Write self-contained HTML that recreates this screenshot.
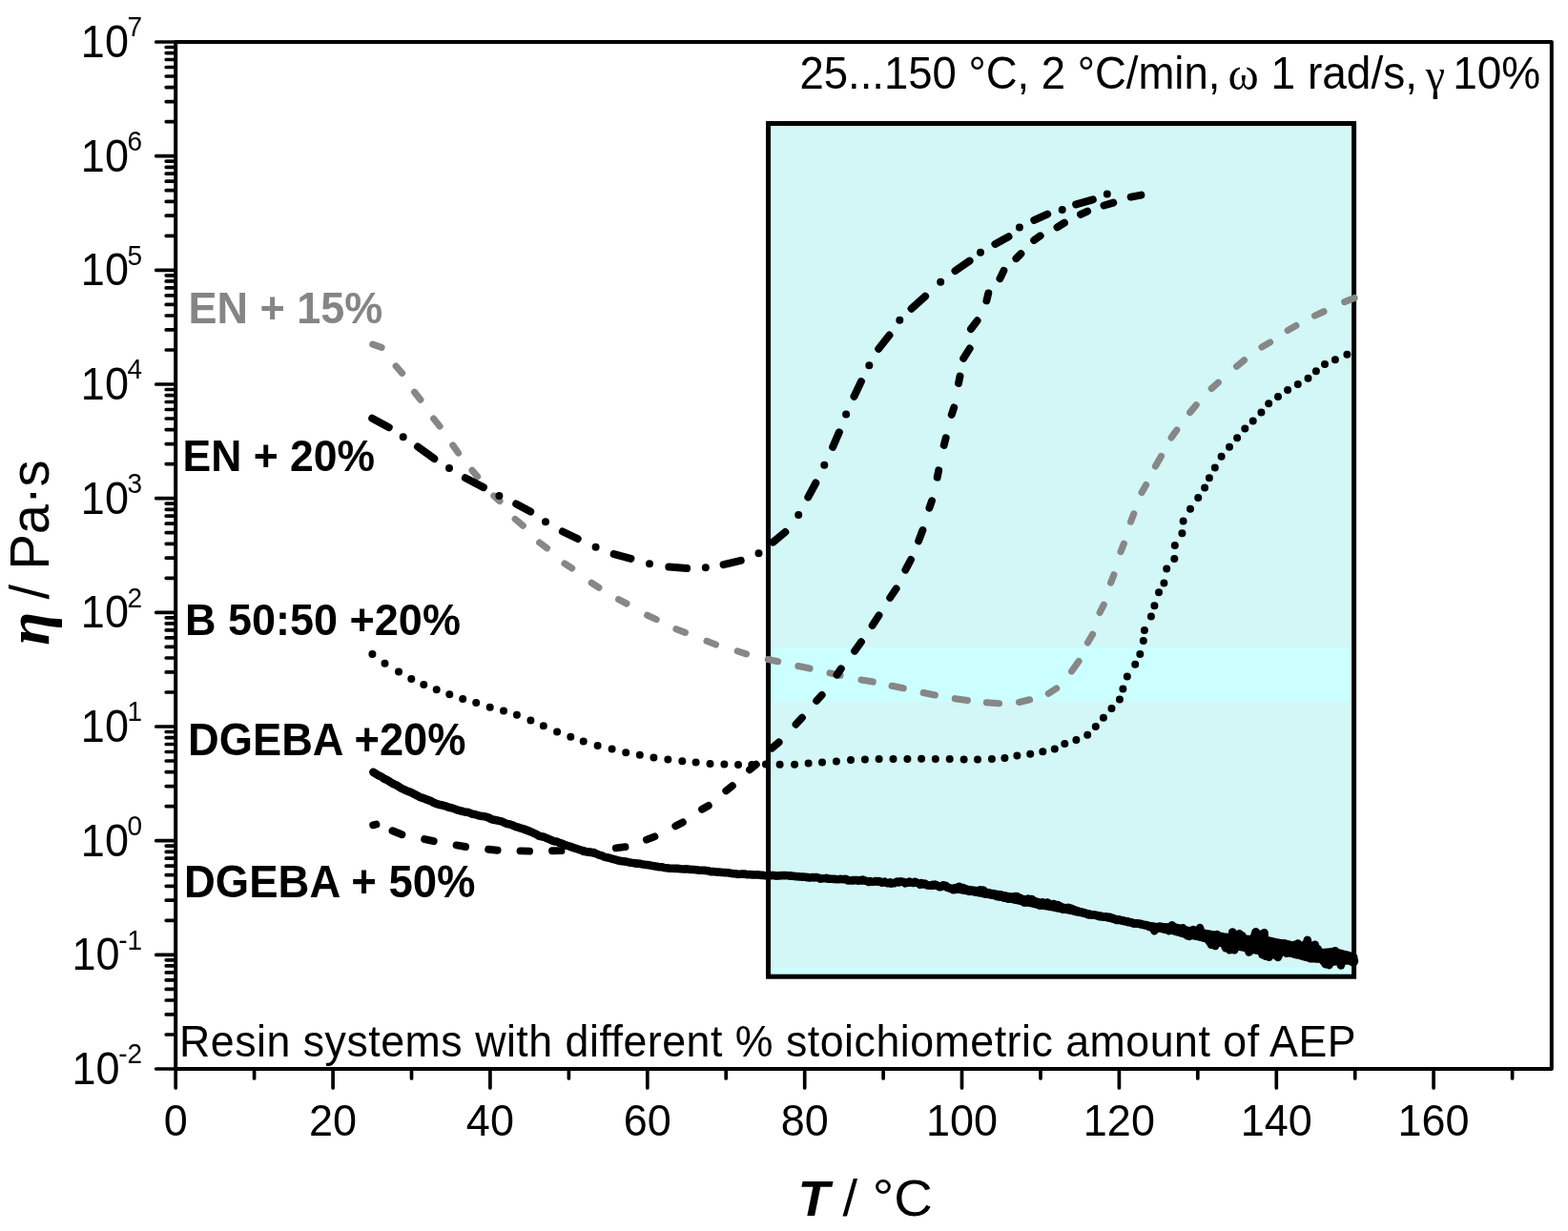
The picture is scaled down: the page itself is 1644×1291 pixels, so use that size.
<!DOCTYPE html><html><head><meta charset="utf-8"><title>Viscosity plot</title><style>html,body{margin:0;padding:0;background:#fff;}svg{display:block;font-family:"Liberation Sans",Arial,sans-serif;}</style></head><body>
<svg width="1644" height="1291" viewBox="0 0 1644 1291">
<rect width="1644" height="1291" fill="#ffffff"/>
<rect x="805.5" y="129.5" width="614.1" height="894.7" fill="#d3f6f6"/>
<rect x="805.5" y="678" width="614.1" height="57.5" fill="#ccffff"/>
<rect x="805.5" y="1014.5" width="614.1" height="9" fill="#ccffff"/>
<rect x="805.5" y="129.5" width="614.1" height="894.7" fill="none" stroke="#000" stroke-width="5"/>
<path d="M390.7 361.1 L400.1 364.3 M415.2 384 L421.6 391.4 M434.6 411.2 L440.9 419.2 M454.7 439.1 L461.1 447.1 M474.8 466.9 L480.5 475 M495 493.2 L500.6 499.9 M517.8 520 L524 525.5 M540.2 544.4 L548.3 551.3 M565.6 569 L573.5 574.8 M592 590.9 L599.7 595.9 M620.2 611.3 L627.9 616.3 M648.6 628.7 L657 633 M678.7 645.2 L688.2 649.6 M708.9 659.7 L718.4 663.4 M741 672.3 L750.5 676 M773.2 682.9 L782.5 685.8 M805.3 691.6 L815.6 693.7 M836.9 698.6 L849 701.1 M870 705.9 L881 708.2 M903 713 L915.2 715.1 M935.1 719.3 L947.2 721.7 M968.2 726.5 L980.3 729 M1001.3 732.7 L1014.4 734.6 M1034.4 736.7 L1047.5 737.8 M1068.5 736.5 L1079.6 733.8 M1099.3 727.4 L1107.7 721.9 M1123.6 704.1 L1131 693.4 M1140.4 674 L1145.6 665.3 M1153.1 642.5 L1157.3 634.1 M1164.6 611.1 L1167.9 602.7 M1175 578.6 L1178.4 570.2 M1185.5 547.2 L1188.8 538.8 M1197.1 516.5 L1201.6 508.5 M1211.4 489 L1217.4 478.4 M1228.1 458.9 L1233.8 451 M1247.6 432.6 L1254.2 424.7 M1270.2 407.5 L1277.3 401.2 M1296.6 384.3 L1304.5 377.7 M1323 364 L1331.6 359 M1350.2 346.5 L1358.9 341.5 M1378.5 331.1 L1388 326.7 M1409.7 316.6 L1420.1 312.5" fill="none" stroke="#878787" stroke-width="7.1" stroke-linecap="round"/>
<path d="M390.2 438.7 L407.8 448.2 M422.7 458.2 L422.7 458.2 M438 468.5 L455.3 481.1 M471 491.1 L471 491.1 M487.9 501.3 L506.9 511.1 M523.4 519.9 L523.4 519.9 M541.2 528.5 L556.2 536.6 M572 547.2 L572 547.2 M589.9 557.5 L605.7 565 M624.6 573.8 L624.6 573.8 M643.7 581.1 L661.4 585.8 M681 591.3 L681 591.3 M701.3 594.6 L720.1 596.1 M739.8 595.2 L739.8 595.2 M758.6 592.1 L776.7 587.9 M795.5 580.2 L795.5 580.2 M810.5 568.6 L823.3 558 M837.2 540.1 L837.2 540.1 M847.3 521.4 L855.3 506.5 M864.3 487.8 L864.3 487.8 M873.1 468.9 L879.8 453.4 M887.1 434.5 L887.1 434.5 M895.5 415.8 L902.9 400.1 M911.3 383.2 L911.3 383.2 M921.2 365.9 L932.4 351.6 M943.3 335.8 L943.3 335.8 M955.6 323.7 L970.1 310.7 M986.2 295.8 L986.2 295.8 M1001.5 284 L1016.6 273.6 M1028 264.7 L1028 264.7 M1043.4 255.9 L1057.5 248.2 M1068.9 238.4 L1068.9 238.4 M1084.3 230.8 L1098.2 224.6 M1113.7 219.9 L1113.7 219.9 M1128.2 214.4 L1145.8 209.4 M1160.8 203.4 L1160.8 203.4" fill="none" stroke="#000" stroke-width="8.0" stroke-linecap="round"/>
<path d="M391.2 865.3 L394.4 864.5 M411.5 871.3 L421.4 875.2 M445.2 880.1 L454.7 882.2 M478.6 886.4 L488.1 888 M512.1 890.8 L521.6 891.7 M545.5 892.4 L555.1 892.6 M579 892.2 L588.5 892.1 M612.1 893.4 L622.4 893.7 M645.9 889.4 L655.5 888.2 M677.9 880.6 L686.4 877.4 M708.3 866.3 L715.8 862.4 M736 848.7 L742.8 845 M761.3 829.3 L767.9 824.2 M786 807.3 L792.8 801.7 M809.5 784.6 L816.6 778.4 M834.5 759.7 L840.9 752.7 M856.2 734.9 L861.7 728.9 M877.5 707.7 L881.8 701.3 M896.1 682.7 L902.9 673.2 M914.7 655.9 L921.5 645.4 M933.2 626.9 L939.6 617.4 M949.4 597.7 L955 587 M963.1 567.4 L967.4 556 M974.4 532.7 L977 525.2 M982.7 500.6 L984.2 493.3 M989.7 466.9 L991.7 459.3 M997.7 434.9 L1000.2 427.4 M1005 401.9 L1006.5 394.6 M1010.2 375.8 L1016.7 365.5 M1018 345 L1024.6 336.3 M1034.4 315.3 L1036.3 307.4 M1048.4 292.2 L1052.4 283.9 M1065.4 271.1 L1070.4 266.1 M1084.1 251.9 L1090.7 247.3 M1108.5 238.4 L1116 233.6 M1133 224.9 L1140.1 221.7 M1157.4 215.5 L1167.3 212.6 M1185.7 206.6 L1196.4 204.6" fill="none" stroke="#000" stroke-width="7.9" stroke-linecap="round"/>
<path d="M390.4 686 l0.01 0 M403.5 695.7 l0.01 0 M418 704.6 l0.01 0 M431.3 712 l0.01 0 M444.3 718 l0.01 0 M457.7 723.2 l0.01 0 M471.3 728.2 l0.01 0 M485.2 733 l0.01 0 M499.2 737.1 l0.01 0 M513.7 741.8 l0.01 0 M528 745.5 l0.01 0 M541.9 749.8 l0.01 0 M556.4 755.4 l0.01 0 M569.8 761.3 l0.01 0 M584.1 767.4 l0.01 0 M598.3 772.8 l0.01 0 M611.7 777.5 l0.01 0 M626.6 781.9 l0.01 0 M641.6 785.5 l0.01 0 M656.2 789.2 l0.01 0 M670.8 791.8 l0.01 0 M685.4 794.6 l0.01 0 M700.3 796.5 l0.01 0 M715.3 798.2 l0.01 0 M729.6 799.4 l0.01 0 M744.5 800.9 l0.01 0 M759.4 801.6 l0.01 0 M774 802 l0.01 0 M788.3 801.9 l0.01 0 M802.9 801.6 l0.01 0 M817.6 801.7 l0.01 0 M833.1 801.7 l0.01 0 M847.6 800.6 l0.01 0 M862 799.6 l0.01 0 M876.9 798.6 l0.01 0 M892 796.9 l0.01 0 M906.9 796.5 l0.01 0 M921.6 796.1 l0.01 0 M936.5 795.9 l0.01 0 M951.4 795.9 l0.01 0 M966.1 795.7 l0.01 0 M980.8 795.9 l0.01 0 M995.7 796.1 l0.01 0 M1010.6 796.5 l0.01 0 M1025 796.5 l0.01 0 M1039.9 796.1 l0.01 0 M1053.4 795.1 l0.01 0 M1066.4 792.4 l0.01 0 M1080.2 790.7 l0.01 0 M1093.3 788.2 l0.01 0 M1105.8 785.4 l0.01 0 M1116.3 780 l0.01 0 M1128.4 776.1 l0.01 0 M1140.2 770.7 l0.01 0 M1148.8 762.1 l0.01 0 M1156.9 752.8 l0.01 0 M1165.5 742.9 l0.01 0 M1173.9 733.6 l0.01 0 M1177.4 722.6 l0.01 0 M1181.8 709.6 l0.01 0 M1190.2 696.8 l0.01 0 M1195.3 685.9 l0.01 0 M1198.8 672 l0.01 0 M1199.9 661 l0.01 0 M1206.9 646.4 l0.01 0 M1210.4 635.3 l0.01 0 M1215 621.3 l0.01 0 M1220.4 611.5 l0.01 0 M1223.2 596.4 l0.01 0 M1231.3 586 l0.01 0 M1231.8 572 l0.01 0 M1239.4 559.3 l0.01 0 M1240.6 546.5 l0.01 0 M1248 533.7 l0.01 0 M1256.2 522.1 l0.01 0 M1263.1 511.6 l0.01 0 M1267.9 501.2 l0.01 0 M1273.8 490.5 l0.01 0 M1280.6 478.8 l0.01 0 M1289 468.7 l0.01 0 M1297.1 459.3 l0.01 0 M1305.3 449.6 l0.01 0 M1313.7 441.4 l0.01 0 M1322.4 432.5 l0.01 0 M1330.2 423.3 l0.01 0 M1340 416.1 l0.01 0 M1350.1 409.1 l0.01 0 M1360.8 402.9 l0.01 0 M1371.5 396.7 l0.01 0 M1379.9 389.3 l0.01 0 M1389 382.1 l0.01 0 M1399.9 377.2 l0.01 0 M1412.4 371.8 l0.01 0" fill="none" stroke="#000" stroke-width="8" stroke-linecap="round"/>
<path d="M1001.1 930.4 L1003.3 930.6 L1005.5 930.9 L1007.7 931.2 L1009.8 931.5 L1012 931.8 L1014.1 932.1 L1016.2 932.4 L1018.3 932.7 L1020.4 933 L1022.4 933.3 L1024.5 933.7 L1026.6 934 L1028.7 934.3 L1030.8 934.7 L1032.9 935 L1035 935.3 L1037 935.7 L1039.1 936.1 L1041.2 936.4 L1043.3 936.8 L1045.4 937.1 L1047.6 937.5 L1049.7 937.9 L1051.9 938.4 L1054.1 938.8 L1056.3 939.2 L1058.5 939.6 L1060.7 940 L1062.8 940.4 L1064.9 940.9 L1066.9 941.3 L1068.8 941.6 L1070.7 942 L1072.5 942.3 L1075.1 942.8 L1077.3 943.3 L1079.4 943.7 L1081.4 944.1 L1083.3 944.4 L1085.3 944.8 L1087.3 945.2 L1089.5 945.6 L1092 946.1 L1093.9 946.6 L1095.9 947 L1098.1 947.5 L1100.3 947.9 L1102.6 948.4 L1105 949 L1107.3 949.5 L1109.6 950 L1111.8 950.4 L1113.9 950.9 L1115.8 951.3 L1117.6 951.7 L1119.2 952.1 L1122.3 952.8 L1124.3 953.4 L1125.9 953.9 L1127.6 954.4 L1130.1 955 L1131.7 955.4 L1133.5 955.8 L1135.4 956.3 L1137.4 956.7 L1139.5 957.2 L1141.7 957.6 L1143.8 958.1 L1145.9 958.5 L1148.1 958.9 L1150.1 959.3 L1152.1 959.7 L1154.1 960.1 L1156.1 960.6 L1158.1 961 L1160.1 961.4 L1162.2 961.8 L1164.2 962.2 L1166.2 962.6 L1168.2 963 L1170.2 963.4 L1172.2 963.8 L1174.2 964.2 L1176.2 964.6 L1178.2 965 L1180.2 965.4 L1182.3 965.8 L1184.3 966.2 L1186.3 966.6 L1188.3 967.1 L1190.3 967.5 L1192.3 967.9 L1194.3 968.3 L1196.3 968.8 L1198.3 969.2 L1200.4 969.6 L1202.4 970 L1204.4 970.3 L1206.4 970.6 L1208.4 970.8 L1210.4 971.1 L1212.5 971.3 L1214.6 971.4 L1216.7 971.6 L1218.9 971.7 L1221.1 971.8 L1223.2 971.8 L1225.2 971.9 L1227.1 971.9 L1228.8 972 L1230.4 972.1 L1233.5 972.4 L1235.7 972.8 L1237.7 973.4 L1240 974 L1241.9 974.4 L1243.8 974.8 L1245.8 975.2 L1247.9 975.6 L1250 976 L1252 976.3 L1254 976.7 L1256 977 L1258 977.3 L1260 977.6 L1262 977.9 L1264 978.3 L1266.1 978.6 L1268.1 979 L1270.2 979.4 L1272.3 979.8 L1274.4 980.2 L1276.5 980.5 L1278.6 980.9 L1280.6 981.2 L1282.6 981.6 L1284.7 981.9 L1286.7 982.2 L1288.7 982.5 L1290.7 982.7 L1292.7 982.8 L1294.8 983 L1296.8 983.1 L1298.8 983.2 L1300.8 983.3 L1302.8 983.5 L1304.9 983.7 L1306.9 984 L1308.9 984.2 L1311 984.4 L1313 984.5 L1315 984.6 L1317 984.7 L1319 984.7 L1321 984.7 L1323 984.8 L1325 984.8 L1327 985.2 L1329.1 985.6 L1331.1 986 L1333.2 986.4 L1335.3 986.9 L1337.3 987.3 L1339.3 987.8 L1341.4 988.1 L1343.4 988.4 L1345.4 988.7 L1347.5 989.1 L1349.5 989.5 L1351.5 990 L1353.6 990.5 L1355.6 991.1 L1357.6 991.7 L1359.7 992.3 L1361.7 992.8 L1363.7 992.9 L1365.7 993 L1367.8 993 L1369.8 993 L1371.8 993 L1373.8 993.1 L1375.8 993.9 L1377.9 994.8 L1379.9 995.7 L1381.9 996.7 L1384 997.5 L1386 998.3 L1388 998.2 L1390.1 998.1 L1392.1 997.9 L1394.1 997.7 L1396.2 997.5 L1398.2 997.3 L1400.3 997.9 L1402.3 998.4 L1404.4 998.8 L1406.4 999.3 L1408.4 999.9 L1410.3 1000.4 L1412.5 1001 L1414.8 1001.6 L1416.9 1002.4 L1418.7 1003 L1420 1003.4 L1420 1009.6 L1418.7 1009.3 L1416.9 1008.8 L1414.8 1008.3 L1412.5 1007.9 L1410.3 1007.6 L1408.4 1007.7 L1406.4 1008 L1404.4 1008.3 L1402.3 1008.6 L1400.3 1009 L1398.2 1009.3 L1396.2 1008.9 L1394.1 1008.4 L1392.1 1007.9 L1390.1 1007.5 L1388 1006.9 L1386 1006.3 L1384 1006.3 L1381.9 1006.3 L1379.9 1006.2 L1377.9 1006.1 L1375.8 1006 L1373.8 1005.9 L1371.8 1005.2 L1369.8 1004.7 L1367.8 1004.1 L1365.7 1003.6 L1363.7 1003 L1361.7 1002.4 L1359.7 1002 L1357.6 1001.5 L1355.6 1001 L1353.6 1000.4 L1351.5 999.9 L1349.5 999.5 L1347.5 999.2 L1345.4 998.9 L1343.4 998.7 L1341.4 998.5 L1339.3 998.3 L1337.3 998.3 L1335.3 998.3 L1333.2 998.3 L1331.1 998.3 L1329.1 998.3 L1327 998.4 L1325 998.4 L1323 998.1 L1321 997.8 L1319 997.5 L1317 997.2 L1315 996.9 L1313 996.5 L1311 996.1 L1308.9 995.6 L1306.9 995.1 L1304.9 994.6 L1302.8 994.1 L1300.8 993.7 L1298.8 993.2 L1296.8 992.8 L1294.8 992.4 L1292.7 992 L1290.7 991.6 L1288.7 991.1 L1286.7 990.7 L1284.7 990.2 L1282.6 989.7 L1280.6 989.2 L1278.6 988.6 L1276.5 988.1 L1274.4 987.5 L1272.3 987 L1270.2 986.4 L1268.1 985.8 L1266.1 985.2 L1264 984.7 L1262 984.2 L1260 983.8 L1258 983.4 L1256 982.9 L1254 982.5 L1252 982.1 L1250 981.6 L1247.9 981.2 L1245.8 980.8 L1243.8 980.4 L1241.9 980 L1240 979.6 L1237.7 979 L1235.7 978.4 L1233.5 977.8 L1230.4 976.9 L1228.8 976.6 L1227.1 976.2 L1225.2 975.9 L1223.2 975.5 L1221.1 975.1 L1218.9 974.8 L1216.7 974.5 L1214.6 974.1 L1212.5 973.7 L1210.4 973.3 L1208.4 972.9 L1206.4 972.4 L1204.4 971.9 L1202.4 971.4 L1200.4 970.9 L1198.3 970.4 L1196.3 970 L1194.3 969.6 L1192.3 969.1 L1190.3 968.7 L1188.3 968.3 L1186.3 967.9 L1184.3 967.5 L1182.3 967.2 L1180.2 966.8 L1178.2 966.4 L1176.2 966 L1174.2 965.6 L1172.2 965.2 L1170.2 964.8 L1168.2 964.4 L1166.2 964 L1164.2 963.6 L1162.2 963.2 L1160.1 962.8 L1158.1 962.4 L1156.1 962 L1154.1 961.7 L1152.1 961.3 L1150.1 960.9 L1148.1 960.5 L1145.9 960.1 L1143.8 959.6 L1141.7 959.2 L1139.5 958.8 L1137.4 958.5 L1135.4 958.1 L1133.5 957.8 L1131.7 957.5 L1130.1 957.2 L1127.6 956.7 L1125.9 956.3 L1124.3 955.9 L1122.3 955.5 L1119.2 954.9 L1117.6 954.6 L1115.8 954.3 L1113.9 953.9 L1111.8 953.6 L1109.6 953.2 L1107.3 952.8 L1105 952.4 L1102.6 951.9 L1100.3 951.5 L1098.1 951.1 L1095.9 950.8 L1093.9 950.4 L1092 950.1 L1089.5 949.6 L1087.3 949.1 L1085.3 948.7 L1083.3 948.3 L1081.4 947.9 L1079.4 947.5 L1077.3 947.1 L1075.1 946.6 L1072.5 946.1 L1070.7 945.7 L1068.8 945.3 L1066.9 944.9 L1064.9 944.5 L1062.8 944 L1060.7 943.6 L1058.5 943.1 L1056.3 942.7 L1054.1 942.2 L1051.9 941.7 L1049.7 941.3 L1047.6 940.9 L1045.4 940.4 L1043.3 940 L1041.2 939.6 L1039.1 939.2 L1037 938.9 L1035 938.5 L1032.9 938.1 L1030.8 937.7 L1028.7 937.3 L1026.6 937 L1024.5 936.6 L1022.4 936.3 L1020.4 935.9 L1018.3 935.6 L1016.2 935.2 L1014.1 934.9 L1012 934.6 L1009.8 934.3 L1007.7 933.9 L1005.5 933.6 L1003.3 933.3 L1001.1 933Z" fill="#000" stroke="#000" stroke-width="7" stroke-linejoin="round"/>
<path d="M391.4 809.8 L394.2 811.6 L396.7 813.2 L399.6 814.4 L402.2 816.3 L404.7 817.5 L407.6 819.1 L410.5 821 L413.1 822.4 L415.7 823.5 L418.3 825.1 L421.1 826.9 L423.9 828.1 L426.7 829.5 L429.3 830.4 L432.1 831.7 L434.9 833.1 L437.8 834.6 L440.7 836.2 L443.5 837 L446.3 838.1 L449.1 839.1 L451.9 840.1 L454.6 841.7 L457.2 842.8 L459.9 843.7 L462.7 844.3 L465.3 844.9 L468 845.7 L470.7 846.7 L473.4 847.3 L476.3 848.3 L479.3 849.3 L481.9 850.1 L484.4 850.7 L487 851.5 L489.6 851.7 L492.1 852.4 L495 853.7 L497.7 854 L500.8 855 L503.3 855.7 L506.3 856.1 L509.2 856.5 L512 857.4 L514.8 858.9 L517.6 859.8 L520.4 860.3 L523.3 860.9 L526.1 861.5 L529 862.9 L531.8 864 L534.7 864.5 L537.5 865.5 L540.4 866.8 L543.2 867.7 L546.1 868.6 L548.8 869.4 L551.5 870.4 L554.2 871.4 L556.8 872.4 L559.5 873.7 L562.3 874.9 L565.1 876.8 L567.7 877.2 L570.2 877.7 L572.9 879 L575.8 880.1 L578.4 881.2 L581.1 882.4 L583.7 882.5 L586.4 883.8 L589.1 884.6 L591.6 885.9 L594.6 886.9 L597.3 887.6 L600 888.6 L603.2 889.8 L605.8 890.4 L608.4 891.4 L611.1 892.1 L613.9 892.9 L616.6 893.6 L619.5 893.9 L622.4 894.6 L625.3 895.4 L628 896.6 L631 897.4 L633.5 898.6 L636.2 899.3 L638.9 899.8 L641.7 900.8 L644.6 901.4 L647.2 902.2 L649.7 902.7 L652.3 903.2 L654.9 903.4 L657.4 903.8 L660.4 904.6 L662.9 904.9 L665.4 905.4 L668.4 905.6 L671.3 905.8 L674.2 906.6 L677.2 907 L679.8 907.1 L682.7 907.8 L685.6 908.3 L688.6 908.8 L691.1 909.3 L693.6 909.3 L696.1 909.9 L698.7 910.2 L701.2 910.6 L703.7 910.7 L706.3 910.7 L708.8 910.9 L711.4 910.9 L713.9 911.3 L716.5 911.5 L719 911.3 L721.6 911.6 L724.1 911.9 L727.1 912 L730.1 912.2 L733.1 912.7 L736 912.8 L739 912.9 L742 913.2 L745 914.1 L748 914.1 L751 914.5 L754 914.6 L757 915 L759.9 915.1 L762.9 915.3 L765.9 915.8 L768.4 916.2 L771 916.3 L773.5 916.9 L776 916.8 L778.6 916.5 L781.1 916.6 L783.7 917.3 L786.2 917 L788.8 917.4 L791.3 917.5 L794.3 917.3 L797.2 917.9 L800.1 917.9 L801.6 918.2 L803.1 918.2 L804.7 918.2 L806.2 918.2 L807.8 918.1 L809.4 918.1 L811.1 918 L812.6 918.2 L814 918.7 L815.5 918.4 L817 918.5 L818.6 918.2 L820.1 918.1 L821.7 918.3 L823.3 918.1 L824.9 918.2 L826.5 918.2 L828.1 918.7 L829.7 918.4 L831.3 918.8 L832.8 919 L834.3 919.1 L835.8 919.3 L837.2 919.4 L838.5 919.4 L840 919.6 L841.7 919.6 L843.2 919.8 L844.5 919.7 L845.8 920.1 L847 920 L848.2 920.4 L849.4 920.4 L850.8 920.3 L852.2 920.1 L853.8 920.4 L855.6 920 L856.9 920.3 L858.4 920.7 L860 921.7 L861.2 921.4 L862.5 921.2 L863.8 921.2 L865.2 921.3 L866.6 920.9 L868.1 921.8 L869.6 921.6 L871.1 921.7 L872.6 921.7 L874.2 922 L875.8 921.9 L877.4 922.3 L879 922.2 L880.7 921.9 L882.3 922 L884 922.2 L885.6 921.9 L887.2 922 L888.9 923.5 L890.5 923.5 L892.1 923.5 L893.7 923.1 L895.3 923.4 L896.8 923 L898.3 923.1 L899.8 923.7 L901.3 923.1 L902.9 923.5 L904.4 922.5 L906 923.5 L907.5 923.7 L909.1 924.1 L910.7 925 L912.2 924.1 L913.8 924.6 L915.3 924.7 L916.9 924.4 L918.4 924 L920 924.6 L921.5 924.1 L923 924.6 L924.5 925.6 L926 925.5 L927.5 924.7 L928.9 925.7 L930.4 926.2 L931.8 926 L933.2 925.3 L934.5 926.6 L935.9 926.3 L937.5 926.2 L939.2 925.2 L940.9 924.5 L942.6 925.4 L944.2 924.3 L945.9 924.8 L947.5 925 L949.1 926.3 L950.6 925.6 L952.1 925.7 L953.6 924.6 L955.1 925.3 L956.5 925.7 L958 926 L959.3 924.9 L960.7 925.3 L962.1 926.2 L963.4 926.5 L964.7 927.6 L966.1 926.2 L967.8 927.4 L969.4 926.5 L970.9 927.4 L972.3 928.6 L973.7 928.4 L975 928.8 L976.3 928.7 L977.6 927.9 L979 928.7 L980.4 927.6 L982 928.3 L983.7 929.1 L984.9 930.1 L986.2 930.1 L987.5 929.8 L988.9 928.4 L990.3 928.5 L991.8 929.1 L993.2 931 L994.8 930.8 L996.3 931.7 L997.8 931.8 L999.4 933.3 L1000.5 933.3 L1001.5 931.4 L1002.6 930.9 L1003.6 931.9 L1004.7 931 L1005.8 929.9 L1006.8 932.1 L1007.9 931.8 L1008.9 932.5 L1010 931.1 L1011 931.9 L1012.1 932.1 L1013.1 932.9 L1014.1 934.1 L1015.1 933.8 L1016.1 933.3 L1017.1 934.8 L1018.1 934.2 L1019 934.5 L1020 934.7 L1021 934.1 L1022 934.5 L1023 934.7 L1024 935.4 L1025 934.7 L1026 933.8 L1027 934.1 L1028 933.4 L1028.9 935.5 L1029.9 934.4 L1030.9 933.5 L1031.9 935.5 L1032.9 937.6 L1033.9 937.8 L1034.9 937.7 L1035.9 937 L1036.9 937 L1037.9 936.8 L1038.8 937.3 L1039.8 937.3 L1040.8 937 L1041.8 937.8 L1042.8 938.6 L1043.8 938.9 L1044.8 939.7 L1045.8 940.3 L1046.8 938.5 L1047.8 940.4 L1048.9 938.3 L1049.9 939.8 L1051 939.4 L1052 939.5 L1053 941.8 L1054.1 940 L1055.1 940.9 L1056.2 942.3 L1057.2 942.6 L1058.2 941.1 L1059.3 941.4 L1060.3 941.6 L1061.3 940.9 L1062.3 941.3 L1063.3 942.4 L1064.3 940 L1065.3 940.4 L1066.2 940.2 L1067.2 942.1 L1068.1 942.7 L1069 941.4 L1069.9 941.9 L1070.8 944.5 L1071.7 944 L1072.5 943.9 L1073.7 946.6 L1074.9 943.9 L1076 946.4 L1077 944.6 L1078 942.6 L1079 943.7 L1079.9 945.1 L1080.8 943.2 L1081.7 943 L1082.6 943.7 L1083.5 947.4 L1084.4 946.6 L1085.3 945.3 L1086.2 946.5 L1087.2 946.5 L1088.2 948.6 L1089.2 948.2 L1090.3 949.7 L1091.4 948.9 L1092.4 947.2 L1093.3 946.4 L1094.2 949.1 L1095.2 947.5 L1096.2 947.3 L1097.2 947.9 L1098.2 946.5 L1099.3 947.4 L1100.4 948.4 L1101.5 949.7 L1102.6 948.8 L1103.7 949.8 L1104.8 948 L1105.9 949.2 L1107 949.2 L1108 949.5 L1109.1 949.1 L1110.2 950.3 L1111.2 951.4 L1112.2 950.7 L1113.2 952 L1114.2 953.7 L1115.1 952.2 L1116 952.7 L1116.9 952 L1117.7 953.5 L1118.8 953.4 L1120 951.8 L1121.4 952.2 L1122.6 952.9 L1123.6 952.9 L1124.4 954 L1125.4 953.9 L1126.5 954 L1127.3 955.7 L1128.3 954.9 L1129.4 955.6 L1130.5 956.1 L1131.3 955.8 L1132.2 956.3 L1133.1 956.2 L1134 956.9 L1134.9 956.7 L1135.9 957.2 L1136.9 957.8 L1138 958.1 L1139 958.4 L1140.1 959 L1141.1 959.5 L1142.2 959.4 L1143.3 959.5 L1144.3 959.2 L1145.4 959.6 L1146.5 959.5 L1147.5 959.6 L1148.6 959.9 L1149.6 960.2 L1150.6 960.5 L1151.6 960.4 L1152.6 961.3 L1153.6 961.2 L1154.6 960.8 L1155.6 961.1 L1156.6 961.3 L1157.6 961.7 L1158.6 961.7 L1159.6 961.4 L1160.6 961.5 L1161.7 961.7 L1162.7 961.9 L1163.7 961.9 L1164.7 962.7 L1165.7 963.1 L1166.7 962.8 L1167.7 963.7 L1168.7 963.8 L1169.7 964.6 L1170.7 965 L1171.7 965 L1172.7 964.4 L1173.7 964.6 L1174.7 965.3 L1175.7 965.1 L1176.7 965.3 L1177.7 965.8 L1178.7 966.1 L1179.7 966 L1180.8 966.3 L1181.8 966.2 L1182.8 967.2 L1183.8 967.2 L1184.8 967.2 L1185.8 967.4 L1186.8 968 L1187.8 968.2 L1188.8 968.7 L1189.8 968.5 L1190.8 968.5 L1191.8 968.5 L1192.8 968.7 L1193.7 968.5 L1194.7 968.9 L1195.7 968.8 L1196.7 969 L1197.7 969.7 L1198.6 969.8 L1199.6 970.1 L1200.6 969.9 L1201.6 970.6 L1202.6 970.2 L1203.5 970.6 L1204.5 971.8 L1205.5 971.3 L1206.5 972.3 L1207.5 972.6 L1208.4 971.7 L1209.4 972.9 L1210.4 976.2 L1211.4 973 L1212.5 972.9 L1213.5 972.5 L1214.6 972.6 L1215.7 971.5 L1216.7 972.6 L1217.8 971.9 L1218.9 972.6 L1220 972.3 L1221.1 974.8 L1222.1 973.7 L1223.2 972.5 L1224.2 973.4 L1225.2 976.1 L1226.1 973.7 L1227.1 975.3 L1228 973.1 L1228.8 970.4 L1229.6 971.1 L1231.1 974.2 L1232.5 972.5 L1233.6 974.2 L1234.6 975.6 L1235.5 976.8 L1236.3 976.1 L1237.1 973.9 L1238 974.1 L1238.9 976.8 L1240 973.2 L1240.9 974.4 L1241.9 977.7 L1242.8 979.7 L1243.8 980 L1244.8 981.2 L1245.8 980.7 L1246.9 982 L1247.9 978.1 L1248.9 976.1 L1250 977.1 L1251 975 L1252 976.5 L1253 980.2 L1254 978.2 L1255 976.6 L1256 980.8 L1257 979.5 L1258 973.1 L1259 977.3 L1260 978.9 L1261 979.7 L1262 982.2 L1263 983.7 L1264 982.5 L1265 984.6 L1266 980.9 L1267 981.6 L1268 987.7 L1269 983.8 L1270 990.8 L1271 982.3 L1272 983 L1273 982.1 L1274 992 L1275 981.9 L1276 980.1 L1277 986.6 L1278 988.9 L1279.1 986.7 L1280.1 987.4 L1281.1 988.8 L1282.1 989.3 L1283.1 988.3 L1284.1 991.6 L1285.2 994.2 L1286.2 988.4 L1287.2 985.2 L1288.2 988.1 L1289.2 996.3 L1290.2 986.1 L1291.2 988.5 L1292.2 977.6 L1293.2 994.8 L1294.2 996.3 L1295.3 990.8 L1296.3 992.3 L1297.3 993 L1298.3 986 L1299.3 979.2 L1300.3 984.5 L1301.3 982.4 L1302.3 981.3 L1303.3 986.2 L1304.4 990.1 L1305.4 988.4 L1306.4 992.2 L1307.4 990.2 L1308.4 989.4 L1309.5 998.5 L1310.5 997.6 L1311.5 992.4 L1312.5 991.4 L1313.5 985.8 L1314.5 983 L1315.5 981.5 L1316.5 977.3 L1317.5 978.1 L1318.5 985.1 L1319.5 979.6 L1320.5 988.5 L1321.5 983.6 L1322.5 989.7 L1323.5 1001.2 L1324.5 998.3 L1325.5 978.2 L1326.5 1002.7 L1327.5 999.8 L1328.6 994.3 L1329.6 999.6 L1330.6 1003.8 L1331.7 998.9 L1332.7 995.6 L1333.7 989.8 L1334.7 993.9 L1335.8 993.3 L1336.8 998.2 L1337.8 1002.3 L1338.8 996.9 L1339.8 1003.9 L1340.9 1001.4 L1341.9 996.4 L1342.9 993.4 L1343.9 996.9 L1344.9 991.5 L1345.9 990.4 L1347 989.6 L1348 993 L1349 999.7 L1350 993.4 L1351 993.7 L1351.9 998 L1352.9 999.1 L1353.9 996.5 L1354.9 998.7 L1355.9 995.5 L1356.8 999.7 L1357.8 990.7 L1358.8 996.5 L1359.8 996.1 L1360.7 989.6 L1361.7 995.6 L1362.7 993.9 L1363.7 994.6 L1364.7 1001.3 L1365.7 998.8 L1366.7 1001.7 L1367.8 990.5 L1368.8 996.6 L1369.8 994.4 L1370.8 985.9 L1371.8 992.8 L1372.8 993.5 L1373.8 991.6 L1374.8 1001.4 L1375.7 994.4 L1376.7 994.9 L1377.7 996.8 L1378.7 990.8 L1379.6 996.5 L1380.6 999.4 L1381.6 995 L1382.6 999.8 L1383.6 1002.1 L1384.5 1002.2 L1385.5 1001.5 L1386.5 1002 L1387.5 1008.2 L1388.5 1007.3 L1389.6 1011.1 L1390.6 1005.9 L1391.6 1008.7 L1392.6 1008.2 L1393.6 1012.1 L1394.6 1008.8 L1395.7 1006.2 L1396.7 1001 L1397.7 1005.5 L1398.7 1004.8 L1399.7 997.3 L1400.8 1003.3 L1401.8 1002.9 L1402.9 1005.3 L1403.9 1004.2 L1404.9 1007.6 L1405.9 1012.4 L1406.9 1007 L1407.9 1007.7 L1408.9 1004.8 L1409.8 1007.4 L1410.9 1002.6 L1412 1007.3 L1413.1 1002.3 L1414.3 1006.9 L1415.4 1007.2 L1416.4 1007.1 L1417.4 1003.8 L1418.3 1009.3 L1419.4 1007.1 L1420 1007.7" fill="none" stroke="#000" stroke-width="8.6" stroke-linecap="round" stroke-linejoin="round"/>
<path d="M184.2 44 H1626.8 V1121 H184.2 Z" fill="none" stroke="#000" stroke-width="4" stroke-linejoin="round"/>
<path d="M184.2 44 H163.7 M184.2 127.6 H174.2 M184.2 106.6 H174.2 M184.2 91.6 H174.2 M184.2 80 H174.2 M184.2 70.5 H174.2 M184.2 62.5 H174.2 M184.2 55.6 H174.2 M184.2 49.5 H174.2 M184.2 163.7 H163.7 M184.2 247.3 H174.2 M184.2 226.2 H174.2 M184.2 211.3 H174.2 M184.2 199.7 H174.2 M184.2 190.2 H174.2 M184.2 182.2 H174.2 M184.2 175.3 H174.2 M184.2 169.1 H174.2 M184.2 283.3 H163.7 M184.2 367 H174.2 M184.2 345.9 H174.2 M184.2 331 H174.2 M184.2 319.4 H174.2 M184.2 309.9 H174.2 M184.2 301.9 H174.2 M184.2 294.9 H174.2 M184.2 288.8 H174.2 M184.2 403 H163.7 M184.2 486.6 H174.2 M184.2 465.6 H174.2 M184.2 450.6 H174.2 M184.2 439 H174.2 M184.2 429.5 H174.2 M184.2 421.5 H174.2 M184.2 414.6 H174.2 M184.2 408.5 H174.2 M184.2 522.7 H163.7 M184.2 606.3 H174.2 M184.2 585.2 H174.2 M184.2 570.3 H174.2 M184.2 558.7 H174.2 M184.2 549.2 H174.2 M184.2 541.2 H174.2 M184.2 534.3 H174.2 M184.2 528.1 H174.2 M184.2 642.3 H163.7 M184.2 726 H174.2 M184.2 704.9 H174.2 M184.2 690 H174.2 M184.2 678.4 H174.2 M184.2 668.9 H174.2 M184.2 660.9 H174.2 M184.2 653.9 H174.2 M184.2 647.8 H174.2 M184.2 762 H163.7 M184.2 845.6 H174.2 M184.2 824.6 H174.2 M184.2 809.6 H174.2 M184.2 798 H174.2 M184.2 788.5 H174.2 M184.2 780.5 H174.2 M184.2 773.6 H174.2 M184.2 767.5 H174.2 M184.2 881.7 H163.7 M184.2 965.3 H174.2 M184.2 944.2 H174.2 M184.2 929.3 H174.2 M184.2 917.7 H174.2 M184.2 908.2 H174.2 M184.2 900.2 H174.2 M184.2 893.3 H174.2 M184.2 887.1 H174.2 M184.2 1001.3 H163.7 M184.2 1085 H174.2 M184.2 1063.9 H174.2 M184.2 1049 H174.2 M184.2 1037.4 H174.2 M184.2 1027.9 H174.2 M184.2 1019.9 H174.2 M184.2 1012.9 H174.2 M184.2 1006.8 H174.2 M184.2 1121 H163.7 M184.2 1121 V1141 M266.6 1121 V1131 M349.1 1121 V1141 M431.5 1121 V1131 M513.9 1121 V1141 M596.4 1121 V1131 M678.8 1121 V1141 M761.2 1121 V1131 M843.7 1121 V1141 M926.1 1121 V1131 M1008.5 1121 V1141 M1091 1121 V1131 M1173.4 1121 V1141 M1255.8 1121 V1131 M1338.3 1121 V1141 M1420.7 1121 V1131 M1503.1 1121 V1141 M1585.6 1121 V1131" fill="none" stroke="#000" stroke-width="3.7" stroke-linecap="round"/>
<text x="149.2" y="60" transform="matrix(1 0 0 1.05 0 -3)" font-size="45" text-anchor="end">10<tspan dx="-1.3" dy="-20.7" font-size="28">7</tspan></text>
<text x="149.2" y="179.7" transform="matrix(1 0 0 1.05 0 -9)" font-size="45" text-anchor="end">10<tspan dx="-1.3" dy="-20.7" font-size="28">6</tspan></text>
<text x="149.2" y="299.3" transform="matrix(1 0 0 1.05 0 -15)" font-size="45" text-anchor="end">10<tspan dx="-1.3" dy="-20.7" font-size="28">5</tspan></text>
<text x="149.2" y="419" transform="matrix(1 0 0 1.05 0 -21)" font-size="45" text-anchor="end">10<tspan dx="-1.3" dy="-20.7" font-size="28">4</tspan></text>
<text x="149.2" y="538.7" transform="matrix(1 0 0 1.05 0 -26.9)" font-size="45" text-anchor="end">10<tspan dx="-1.3" dy="-20.7" font-size="28">3</tspan></text>
<text x="149.2" y="658.3" transform="matrix(1 0 0 1.05 0 -32.9)" font-size="45" text-anchor="end">10<tspan dx="-1.3" dy="-20.7" font-size="28">2</tspan></text>
<text x="149.2" y="778" transform="matrix(1 0 0 1.05 0 -38.9)" font-size="45" text-anchor="end">10<tspan dx="-1.3" dy="-20.7" font-size="28">1</tspan></text>
<text x="149.2" y="897.7" transform="matrix(1 0 0 1.05 0 -44.9)" font-size="45" text-anchor="end">10<tspan dx="-1.3" dy="-20.7" font-size="28">0</tspan></text>
<text x="149.2" y="1017.3" transform="matrix(1 0 0 1.05 0 -50.9)" font-size="45" text-anchor="end">10<tspan dx="-1.3" dy="-20.7" font-size="28">-1</tspan></text>
<text x="149.2" y="1137" transform="matrix(1 0 0 1.05 0 -56.9)" font-size="45" text-anchor="end">10<tspan dx="-1.3" dy="-20.7" font-size="28">-2</tspan></text>
<text x="184.2" y="1191.3" transform="matrix(1 0 0 1.045 0 -53.6)" font-size="45" text-anchor="middle">0</text>
<text x="349.1" y="1191.3" transform="matrix(1 0 0 1.045 0 -53.6)" font-size="45" text-anchor="middle">20</text>
<text x="513.9" y="1191.3" transform="matrix(1 0 0 1.045 0 -53.6)" font-size="45" text-anchor="middle">40</text>
<text x="678.8" y="1191.3" transform="matrix(1 0 0 1.045 0 -53.6)" font-size="45" text-anchor="middle">60</text>
<text x="843.7" y="1191.3" transform="matrix(1 0 0 1.045 0 -53.6)" font-size="45" text-anchor="middle">80</text>
<text x="1008.5" y="1191.3" transform="matrix(1 0 0 1.045 0 -53.6)" font-size="45" text-anchor="middle">100</text>
<text x="1173.4" y="1191.3" transform="matrix(1 0 0 1.045 0 -53.6)" font-size="45" text-anchor="middle">120</text>
<text x="1338.3" y="1191.3" transform="matrix(1 0 0 1.045 0 -53.6)" font-size="45" text-anchor="middle">140</text>
<text x="1503.1" y="1191.3" transform="matrix(1 0 0 1.045 0 -53.6)" font-size="45" text-anchor="middle">160</text>
<text x="838.4" y="93.5" transform="matrix(1 0 0 1.05 0 -4.7)" font-size="45.5">25...150 °C, 2 °C/min,</text>
<text x="1287.5" y="93.5" transform="matrix(1 0 0 1.0 0 0)" font-size="49" font-family="Liberation Serif, serif">ω</text>
<text x="1332.6" y="93.5" transform="matrix(1 0 0 1.05 0 -4.7)" font-size="46">1 rad/s,</text>
<text x="1494.7" y="93.5" transform="matrix(1 0 0 1.0 0 0)" font-size="46" font-family="Liberation Serif, serif">γ</text>
<text x="1523.2" y="93.5" transform="matrix(1 0 0 1.05 0 -4.7)" font-size="46">10%</text>
<text x="188" y="1107.8" transform="matrix(1 0 0 1.045 0 -49.9)" font-size="44.7" textLength="1233.5">Resin systems with different % stoichiometric amount of AEP</text>
<text x="197.5" y="339.4" transform="matrix(1 0 0 1.045 0 -15.3)" font-size="45" font-weight="bold" fill="#858585">EN + 15%</text>
<text x="191.5" y="494.5" transform="matrix(1 0 0 1.045 0 -22.3)" font-size="44.5" font-weight="bold">EN + 20%</text>
<text x="194" y="666.1" transform="matrix(1 0 0 1.045 0 -30)" font-size="45" font-weight="bold">B 50:50 +20%</text>
<text x="197" y="792.5" transform="matrix(1 0 0 1.045 0 -35.7)" font-size="45.3" font-weight="bold">DGEBA +20%</text>
<text x="193" y="940.8" transform="matrix(1 0 0 1.045 0 -42.3)" font-size="45.5" font-weight="bold">DGEBA + 50%</text>
<text x="836.4" y="1275.3" transform="matrix(1.11 0 0 1.07 -92 -89.3)" font-size="49" font-weight="bold" font-style="italic">T</text>
<text x="883.5" y="1275.5" transform="matrix(1.08 0 0 1.05 -70.7 -63.8)" font-size="52">/ °C</text>
<text transform="translate(50.8 676.7) rotate(-90)" font-family="Liberation Serif, serif" font-size="64" font-weight="bold" font-style="italic">η</text>
<text transform="translate(50.9 628.6) rotate(-90) scale(1 1.03)" font-size="56">/ Pa·s</text>
</svg></body></html>
